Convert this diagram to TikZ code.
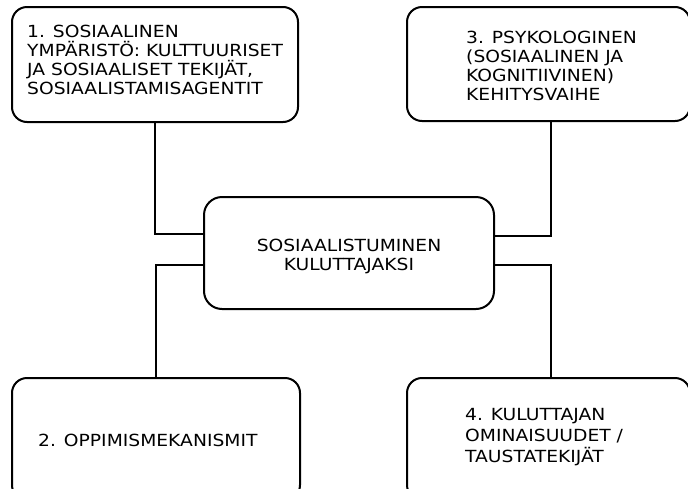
\documentclass[tikz,border=0pt]{standalone}
\usepackage{fontspec}
\setmainfont[FakeStretch=1.12]{DejaVu Sans}
\begin{document}
\begin{tikzpicture}[x=1pt,y=-1pt,
  box/.style={draw, line width=2pt, rounded corners=15pt, inner sep=0pt, fill=white},
  lbl/.style={inner sep=0pt, align=left, font=\fontsize{16.7}{19}\selectfont},
  conn/.style={line width=2pt}]
\useasboundingbox (0,0) rectangle (688,488);
\clip (0,0) rectangle (688,488);
% boxes
\node[box, minimum width=286pt, minimum height=115pt] (b1) at (155,64.5) {};
\node[box, minimum width=283pt, minimum height=114pt] (b3) at (548.5,64) {};
\node[box, rounded corners=18pt, minimum width=290pt, minimum height=112pt] (c) at (349,253) {};
\node[box, minimum width=288pt, minimum height=122pt] (b2) at (156,439) {};
\node[box, minimum width=283pt, minimum height=122pt] (b4) at (548.5,439) {};
% connectors
\draw[conn] (b1.south) |- ([yshift=19pt]c.west);
\draw[conn] (b2.north) |- ([yshift=-12pt]c.west);
\draw[conn] ([xshift=2.5pt]b3.south) |- ([yshift=17pt]c.east);
\draw[conn] ([xshift=2.5pt]b4.north) |- ([yshift=-12pt]c.east);
% texts (base anchor = baseline of the last line)
\node[lbl, anchor=base west] (t1) at (27,94.7) {1. SOSIAALINEN\\YMPÄRISTÖ: KULTTUURISET\\JA SOSIAALISET TEKIJÄT,\\SOSIAALISTAMISAGENTIT};
\node[lbl, anchor=base west] (t3) at (466,100) {3. PSYKOLOGINEN\\(SOSIAALINEN JA\\KOGNITIIVINEN)\\KEHITYSVAIHE};
\node[lbl, align=center, anchor=base] (tc) at (349,270.5) {SOSIAALISTUMINEN\\KULUTTAJAKSI};
\node[lbl, anchor=base west] (t2) at (38,446) {2. OPPIMISMEKANISMIT};
\node[lbl, anchor=base west, font=\fontsize{16.7}{21}\selectfont] (t4) at (465,462) {4. KULUTTAJAN\\OMINAISUUDET /\\TAUSTATEKIJÄT};
\end{tikzpicture}
\end{document}
